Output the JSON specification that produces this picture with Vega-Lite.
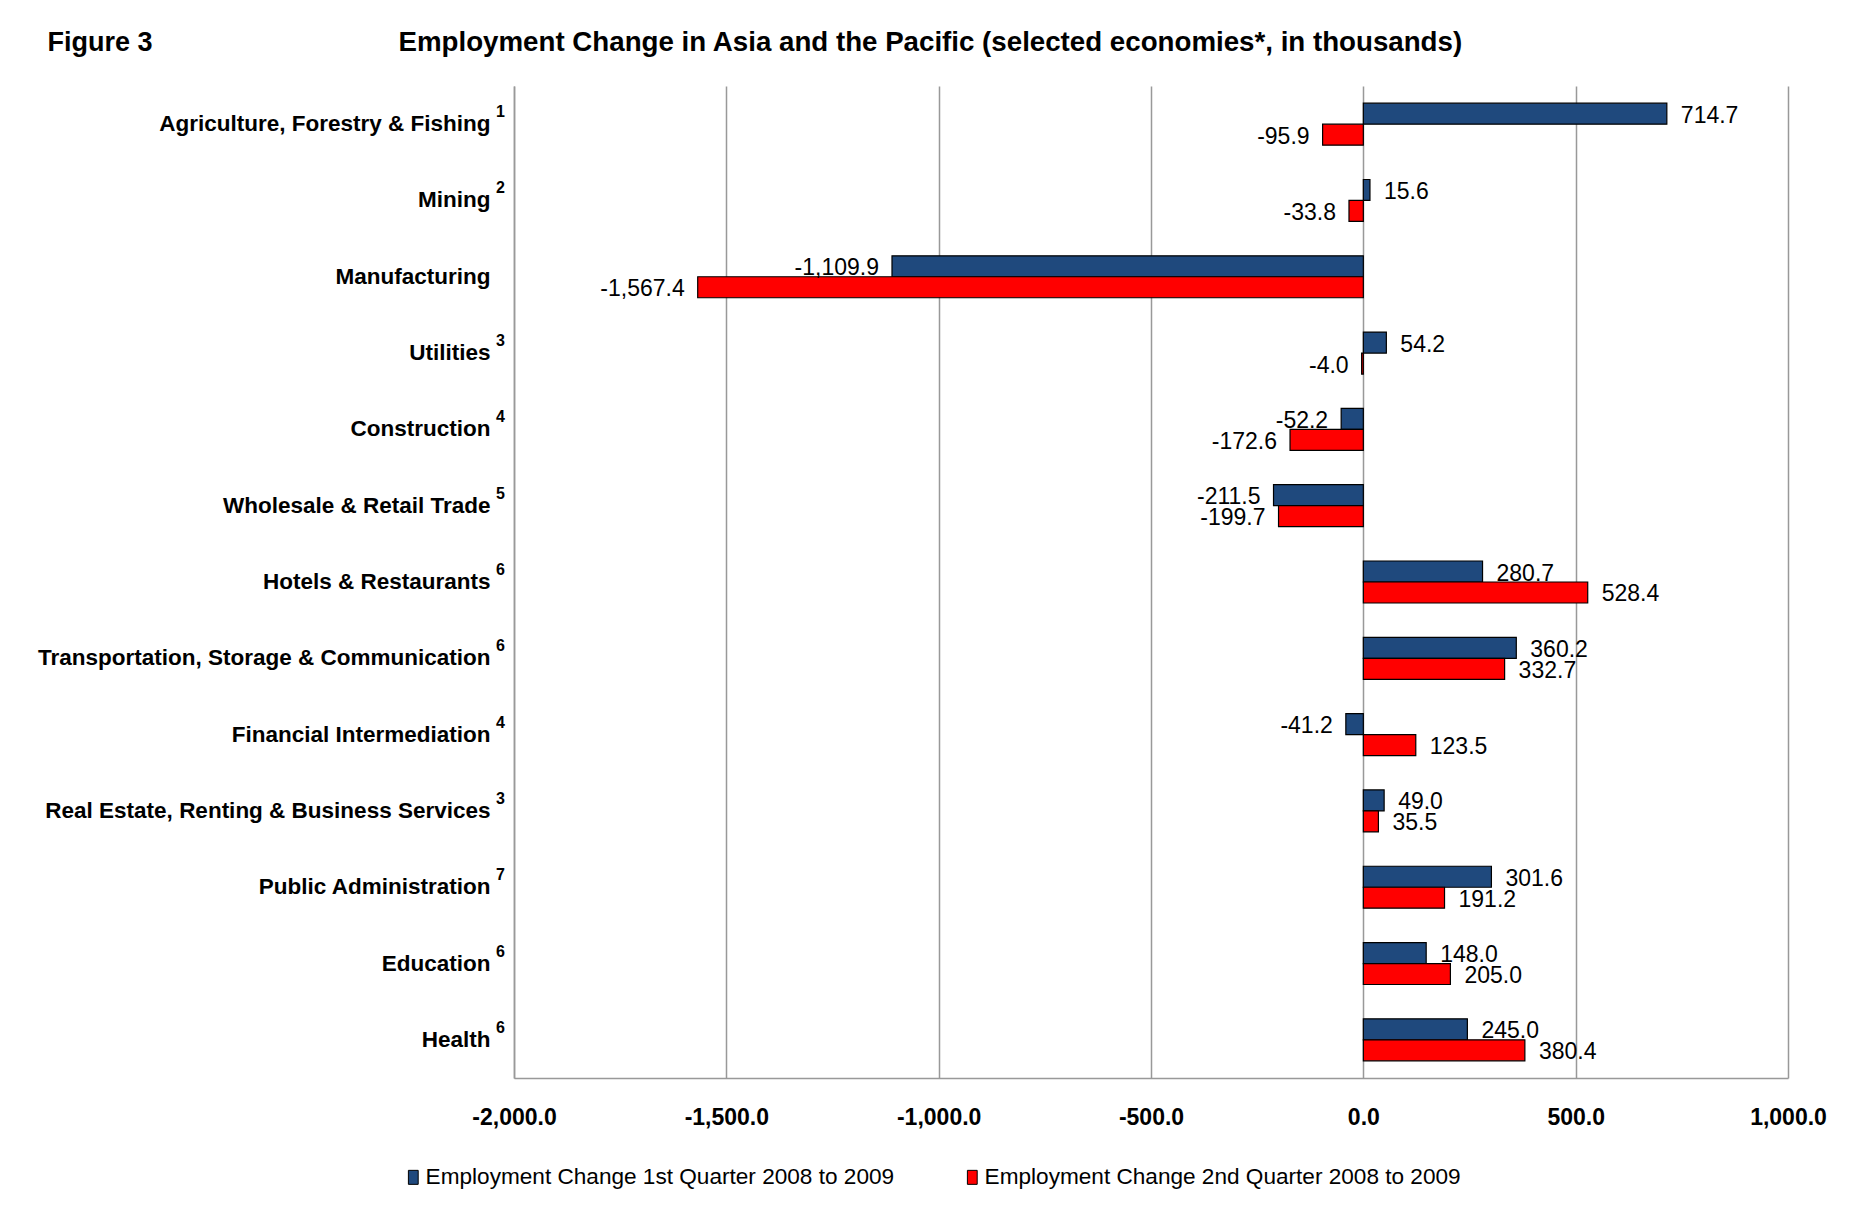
{
  "$schema": "https://vega.github.io/schema/vega-lite/v6.json",
  "width": 1274,
  "height": 992,
  "autosize": {"type": "none"},
  "padding": {"left": 514, "top": 86, "right": 64, "bottom": 128},
  "background": "white",
  "config": {"font": "Liberation Sans", "view": {"stroke": null}},
  "data": {
    "values": [
      {"sector": "Agriculture, Forestry & Fishing", "note": "1", "series": "Employment Change 1st Quarter 2008 to 2009", "value": 714.7},
      {"sector": "Agriculture, Forestry & Fishing", "note": "1", "series": "Employment Change 2nd Quarter 2008 to 2009", "value": -95.9},
      {"sector": "Mining", "note": "2", "series": "Employment Change 1st Quarter 2008 to 2009", "value": 15.6},
      {"sector": "Mining", "note": "2", "series": "Employment Change 2nd Quarter 2008 to 2009", "value": -33.8},
      {"sector": "Manufacturing", "note": "", "series": "Employment Change 1st Quarter 2008 to 2009", "value": -1109.9},
      {"sector": "Manufacturing", "note": "", "series": "Employment Change 2nd Quarter 2008 to 2009", "value": -1567.4},
      {"sector": "Utilities", "note": "3", "series": "Employment Change 1st Quarter 2008 to 2009", "value": 54.2},
      {"sector": "Utilities", "note": "3", "series": "Employment Change 2nd Quarter 2008 to 2009", "value": -4.0},
      {"sector": "Construction", "note": "4", "series": "Employment Change 1st Quarter 2008 to 2009", "value": -52.2},
      {"sector": "Construction", "note": "4", "series": "Employment Change 2nd Quarter 2008 to 2009", "value": -172.6},
      {"sector": "Wholesale & Retail Trade", "note": "5", "series": "Employment Change 1st Quarter 2008 to 2009", "value": -211.5},
      {"sector": "Wholesale & Retail Trade", "note": "5", "series": "Employment Change 2nd Quarter 2008 to 2009", "value": -199.7},
      {"sector": "Hotels & Restaurants", "note": "6", "series": "Employment Change 1st Quarter 2008 to 2009", "value": 280.7},
      {"sector": "Hotels & Restaurants", "note": "6", "series": "Employment Change 2nd Quarter 2008 to 2009", "value": 528.4},
      {"sector": "Transportation, Storage & Communication", "note": "6", "series": "Employment Change 1st Quarter 2008 to 2009", "value": 360.2},
      {"sector": "Transportation, Storage & Communication", "note": "6", "series": "Employment Change 2nd Quarter 2008 to 2009", "value": 332.7},
      {"sector": "Financial Intermediation", "note": "4", "series": "Employment Change 1st Quarter 2008 to 2009", "value": -41.2},
      {"sector": "Financial Intermediation", "note": "4", "series": "Employment Change 2nd Quarter 2008 to 2009", "value": 123.5},
      {"sector": "Real Estate, Renting & Business Services", "note": "3", "series": "Employment Change 1st Quarter 2008 to 2009", "value": 49.0},
      {"sector": "Real Estate, Renting & Business Services", "note": "3", "series": "Employment Change 2nd Quarter 2008 to 2009", "value": 35.5},
      {"sector": "Public Administration", "note": "7", "series": "Employment Change 1st Quarter 2008 to 2009", "value": 301.6},
      {"sector": "Public Administration", "note": "7", "series": "Employment Change 2nd Quarter 2008 to 2009", "value": 191.2},
      {"sector": "Education", "note": "6", "series": "Employment Change 1st Quarter 2008 to 2009", "value": 148.0},
      {"sector": "Education", "note": "6", "series": "Employment Change 2nd Quarter 2008 to 2009", "value": 205.0},
      {"sector": "Health", "note": "6", "series": "Employment Change 1st Quarter 2008 to 2009", "value": 245.0},
      {"sector": "Health", "note": "6", "series": "Employment Change 2nd Quarter 2008 to 2009", "value": 380.4}
    ]
  },
  "transform": [
    {"calculate": "replace(format(datum.value, ',.1f'), '−', '-')", "as": "label"}
  ],
  "encoding": {
    "y": {
      "field": "sector",
      "type": "nominal",
      "sort": null,
      "scale": {"paddingInner": 0.45, "paddingOuter": 0.225},
      "axis": {
        "title": "Figure 3",
        "titleAngle": 0,
        "titleX": -467,
        "titleY": -36,
        "titleAlign": "left",
        "titleBaseline": "alphabetic",
        "titleFontSize": 27,
        "titleFontWeight": "bold",
        "titleColor": "black",
        "labelFontSize": 22.5,
        "labelFontWeight": "bold",
        "labelColor": "black",
        "labelPadding": 24,
        "labelLimit": 800,
        "ticks": false,
        "domainColor": "#999999",
        "domainWidth": 1.5
      }
    },
    "x": {
      "field": "value",
      "type": "quantitative",
      "scale": {"domain": [-2000, 1000], "nice": false, "zero": false},
      "axis": {
        "title": "Employment Change in Asia and the Pacific (selected economies*, in thousands)",
        "titleX": -116,
        "titleY": -1028,
        "titleAlign": "left",
        "titleBaseline": "alphabetic",
        "titleFontSize": 27.7,
        "titleFontWeight": "bold",
        "titleColor": "black",
        "values": [-2000, -1500, -1000, -500, 0, 500, 1000],
        "labelExpr": "replace(format(datum.value, ',.1f'), '−', '-')",
        "labelFontSize": 23,
        "labelFontWeight": "bold",
        "labelColor": "black",
        "labelPadding": 28,
        "labelFlush": false,
        "labelOverlap": false,
        "ticks": false,
        "grid": true,
        "gridColor": "#999999",
        "gridWidth": 1.5,
        "domainColor": "#999999",
        "domainWidth": 1.5
      }
    }
  },
  "layer": [
    {
      "mark": {"type": "bar", "stroke": "black", "strokeWidth": 1.2},
      "encoding": {
        "yOffset": {"field": "series", "type": "nominal", "scale": {"paddingInner": 0, "paddingOuter": 0}},
        "color": {
          "field": "series",
          "type": "nominal",
          "scale": {
            "domain": ["Employment Change 1st Quarter 2008 to 2009", "Employment Change 2nd Quarter 2008 to 2009"],
            "range": ["#1F497D", "#FF0000"]
          },
          "legend": {
            "orient": "none",
            "direction": "horizontal",
            "legendX": -112,
            "legendY": 1080,
            "title": null,
            "labelFontSize": 22.6,
            "labelColor": "black",
            "labelLimit": 800,
            "labelOffset": 1,
            "columnPadding": 66,
            "symbolType": "M-0.7,-1H0.7V1H-0.7Z",
            "symbolSize": 196,
            "symbolStrokeColor": "black",
            "symbolStrokeWidth": 1,
            "symbolOpacity": 1
          }
        }
      }
    },
    {
      "transform": [{"filter": "datum.value >= 0"}],
      "mark": {"type": "text", "align": "left", "baseline": "middle", "dx": 14, "dy": 2, "fontSize": 23, "color": "black"},
      "encoding": {
        "yOffset": {"field": "series", "type": "nominal", "scale": {"paddingInner": 0, "paddingOuter": 0}},
        "text": {"field": "label"}
      }
    },
    {
      "transform": [{"filter": "datum.value < 0"}],
      "mark": {"type": "text", "align": "right", "baseline": "middle", "dx": -13, "dy": 2, "fontSize": 23, "color": "black"},
      "encoding": {
        "yOffset": {"field": "series", "type": "nominal", "scale": {"paddingInner": 0, "paddingOuter": 0}},
        "text": {"field": "label"}
      }
    },
    {
      "transform": [{"filter": "datum.series == 'Employment Change 1st Quarter 2008 to 2009' && datum.note != ''"}],
      "mark": {"type": "text", "align": "right", "baseline": "middle", "dx": -9, "dy": -12, "fontSize": 16, "fontWeight": "bold", "color": "black"},
      "encoding": {
        "x": {"datum": -2000},
        "text": {"field": "note"}
      }
    }
  ]
}
